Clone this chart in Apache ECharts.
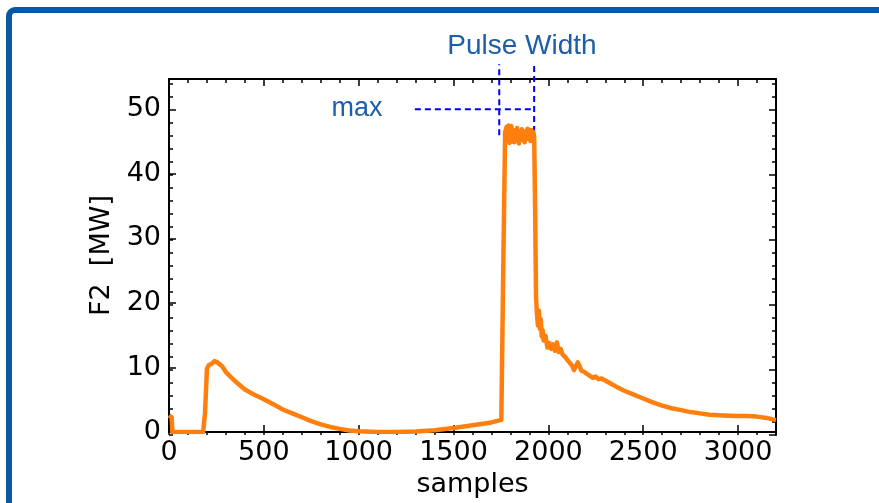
<!DOCTYPE html>
<html>
<head>
<meta charset="utf-8">
<script src="https://cdn.jsdelivr.net/npm/echarts@6/dist/echarts.min.js"></script>
<style>
html,body{margin:0;padding:0;background:#fff;}
#c{width:879px;height:503px;}
</style>
</head>
<body>
<div id="c"></div>
<script>
// ---- data ----
const samples = [0,8,14,18,100,180,190,200,210,225,240,255,265,280,300,330,360,400,450,500,550,600,650,700,750,800,850,900,950,1000,1100,1200,1300,1400,1500,1600,1700,1752,1762,1772,
1780,1785,1790,1795,1800,1805,1810,1815,1820,1825,1830,1835,1840,1845,1850,1855,1860,1865,1870,1875,1880,1885,1890,1895,1900,1905,1910,1915,1920,1925,
1930,1935,1940,1945,1950,1955,1960,1965,1970,1975,1985,1995,2005,2015,2025,2035,2045,2055,2065,2075,2090,2100,2110,2125,2135,2145,2155,2165,2175,2190,2200,2215,2225,2235,2250,2265,2280,2300,2330,2360,2400,2450,2500,2550,2600,2650,2700,2750,2800,2850,2900,2950,3000,3050,3100,3150,3200];
const powerMW = [2.6,2.5,2.3,0,0,0,3,9.8,10.4,10.6,11.0,10.8,11.1,10.2,9.3,8.4,7.6,6.6,5.8,5.1,4.3,3.5,2.9,2.3,1.7,1.2,0.8,0.5,0.25,0.12,0.02,0,0.08,0.3,0.65,1.05,1.5,1.9,25,46.5,
47.3,45.2,47.5,44.8,46.9,47.4,45.0,46.2,44.9,46.8,45.3,47.1,45.8,44.7,46.5,45.2,46.9,45.5,46.3,44.9,46.6,45.4,47.0,45.6,46.4,45.1,46.8,45.7,46.5,45.8,
35,21,18.2,16.5,18.8,16.0,17.5,14.8,15.8,14.2,14.9,13.1,13.8,12.9,13.6,12.6,13.9,12.4,12.9,12.0,11.6,11.2,10.9,10.3,9.6,9.9,10.8,10.2,9.5,9.3,9.0,8.8,9.1,8.4,8.6,8.2,8.3,8.0,7.5,7.0,6.4,5.8,5.2,4.6,4.1,3.7,3.4,3.1,2.9,2.7,2.6,2.55,2.5,2.5,2.4,2.2,1.85];
const xTicks = [0,500,1000,1500,2000,2500,3000];
const yTicks = [0,10,20,30,40,50];
const maxLevel = 50;
const maxLineStart = 1296;
const pulseEdges = [1741, 1925];
const pulseEdgeBottoms = [46, 46.5];
const markerTop = 57;

const X_MAX = 3200, Y_MAX = 54.7;
const FONT = 'DejaVu Sans';
const BLUE_TXT = '#1c5ea9';

const chart = echarts.init(document.getElementById('c'), null, {renderer:'canvas'});
const gridRect = {left:169, right:103, top:79, bottom:68, containLabel:false};
const grids = [0,1,2,3].map(()=>Object.assign({}, gridRect));

function xAx(gi, pos, interval, len, major, labels){
  return {
    type:'value', gridIndex:gi, position:pos, min:0, max:X_MAX, interval:interval,
    axisLine:{show:major, onZero:false, lineStyle:{color:'#000', width:2}},
    axisTick:{show:true, inside:true, length:len, lineStyle:{color:'#000', width:1.5}},
    axisLabel:{show:labels, showMaxLabel:false, color:'#000', fontSize:27, fontFamily:FONT, margin:7,
      formatter:v=>String(v)},
    splitLine:{show:false},
    name: labels ? 'samples' : '', nameLocation:'middle', nameGap:34,
    nameTextStyle:{color:'#000', fontSize:27, fontFamily:FONT}
  };
}
function yAx(gi, pos, interval, len, major, labels){
  return {
    type:'value', gridIndex:gi, position:pos, min:0, max:Y_MAX, interval:interval,
    axisLine:{show:major, onZero:false, lineStyle:{color:'#000', width:2}},
    axisTick:{show:true, inside:true, length:len, lineStyle:{color:'#000', width:1.5}},
    axisLabel:{show:labels, showMaxLabel:false, color:'#000', fontSize:27, fontFamily:FONT, margin:8,
      formatter:v=>String(v)},
    splitLine:{show:false},
    name: labels ? 'F2  [MW]' : '', nameLocation:'middle', nameGap:54, nameRotate:90,
    nameTextStyle:{color:'#000', fontSize:27, fontFamily:FONT}
  };
}

const lineData = samples.map((s,i)=>[s, powerMW[i]]);
const dashStyle = {color:'#0000ff', width:2, type:[6,4]};

function dashSeries(data){
  return {type:'line', xAxisIndex:0, yAxisIndex:0, data:data, symbol:'none', clip:false,
    lineStyle:dashStyle, silent:true, z:3};
}

chart.setOption({
  animation:false,
  backgroundColor:'#fff',
  grid: grids,
  xAxis:[
    xAx(0,'bottom',500,7,true,true),
    xAx(1,'bottom',100,4,false,false),
    xAx(2,'top',500,7,true,false),
    xAx(3,'top',100,4,false,false)
  ],
  yAxis:[
    yAx(0,'left',10,7,true,true),
    yAx(1,'left',2,4,false,false),
    yAx(2,'right',10,7,true,false),
    yAx(3,'right',2,4,false,false)
  ],
  graphic:[
    {type:'rect', shape:{x:9, y:10, width:900, height:600, r:6},
      style:{fill:'none', stroke:'#0a58a4', lineWidth:6}, z:100},
    {type:'text', style:{text:'Pulse Width', x:522, y:46, fill:BLUE_TXT,
      font:'28px "Liberation Sans"', textAlign:'center', textVerticalAlign:'middle'}},
    {type:'text', style:{text:'max', x:357, y:109, fill:BLUE_TXT,
      font:'27px "Liberation Sans"', textAlign:'center', textVerticalAlign:'middle'}}
  ],
  series:[
    dashSeries([[maxLineStart, maxLevel],[pulseEdges[1], maxLevel]]),
    dashSeries([[pulseEdges[0], pulseEdgeBottoms[0]],[pulseEdges[0], markerTop]]),
    dashSeries([[pulseEdges[1], pulseEdgeBottoms[1]],[pulseEdges[1], markerTop]]),
    {type:'line', xAxisIndex:0, yAxisIndex:0, data:lineData, symbol:'none',
      lineStyle:{color:'#ff7f0e', width:4.5, join:'round'}, z:4}
  ]
});
</script>
</body>
</html>
